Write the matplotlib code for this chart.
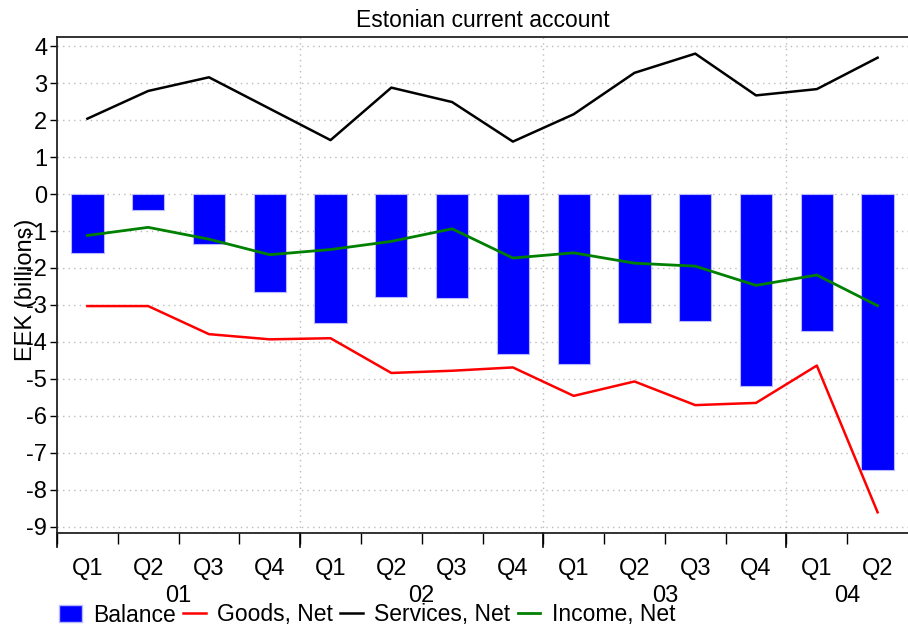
import matplotlib
matplotlib.use("Agg")
import matplotlib.pyplot as plt
import matplotlib.transforms as mtransforms
from matplotlib.patches import Patch
from matplotlib.lines import Line2D
import numpy as np

plt.rcParams['font.family'] = ['Liberation Sans', 'DejaVu Sans']
plt.rcParams['axes.unicode_minus'] = False

quarters = ["Q1", "Q2", "Q3", "Q4", "Q1", "Q2", "Q3", "Q4",
            "Q1", "Q2", "Q3", "Q4", "Q1", "Q2"]
years = ["01", "02", "03", "04"]
year_counts = [4, 4, 4, 2]

balance = [-1.60, -0.43, -1.36, -2.66, -3.49, -2.78, -2.81, -4.33,
           -4.59, -3.48, -3.44, -5.18, -3.70, -7.47]
goods = [-3.03, -3.03, -3.79, -3.93, -3.90, -4.84, -4.78, -4.69,
         -5.46, -5.07, -5.71, -5.65, -4.64, -8.61]
services = [2.04, 2.79, 3.16, 2.31, 1.46, 2.88, 2.49, 1.42,
            2.16, 3.28, 3.80, 2.67, 2.84, 3.69]
income = [-1.12, -0.90, -1.22, -1.64, -1.50, -1.28, -0.94, -1.73,
          -1.59, -1.87, -1.95, -2.47, -2.19, -3.02]

FS = 17
W, H = 908, 630
fig = plt.figure(figsize=(W / 100, H / 100), dpi=100)
ax = fig.add_axes([57 / W, 1 - 533 / H, 1 - 57 / W, (533 - 37) / H])

x = np.arange(len(quarters))
ax.bar(x, balance, width=0.53, color='#0000FF', edgecolor='#B8B8FF',
       linewidth=0.8, zorder=2)
ax.plot(x, goods, color='#FF0000', lw=1.8, zorder=3)
ax.plot(x, services, color='black', lw=1.8, zorder=3)
ax.plot(x, income, color='#008000', lw=2.0, zorder=3)

ax.set_xlim(-0.5, len(quarters) - 0.5)
ax.set_ylim(-9.17, 4.25)

# y axis
ax.set_yticks(range(-9, 5))
ax.tick_params(axis='y', which='major', labelsize=FS, length=5, width=1,
               direction='out', pad=2)
ax.yaxis.grid(True, linestyle=(0, (1, 3)), color='#BBBBBB', lw=1, zorder=0)

# x axis: boundaries as major ticks, quarter labels as minor
bounds = np.arange(len(quarters) + 1) - 0.5
year_bounds = np.concatenate([[0], np.cumsum(year_counts)]) - 0.5
ax.set_xticks(bounds[:-1])
ax.set_xticklabels([])
ax.tick_params(axis='x', which='major', length=8, width=1, direction='out')
ax.set_xticks(x, minor=True)
ax.set_xticklabels(quarters, minor=True)
ax.tick_params(axis='x', which='minor', length=0, labelsize=FS, pad=18)
for yb in year_bounds[:-1]:
    ax.plot([yb, yb], [0, -0.028], transform=mtransforms.blended_transform_factory(
        ax.transData, ax.transAxes), color='black', lw=1.2, clip_on=False)
for yb in year_bounds[1:-1]:
    ax.axvline(yb, linestyle=(0, (1, 3)), color='#BBBBBB', lw=1, zorder=0)

trans = mtransforms.blended_transform_factory(ax.transData, fig.transFigure)
for i, (yr, n) in enumerate(zip(years, year_counts)):
    cx = (year_bounds[i] + year_bounds[i + 1]) / 2
    ax.text(cx, 1 - 596 / H, yr, transform=trans, ha='center', va='center',
            fontsize=FS)

for s in ['top', 'bottom', 'left']:
    ax.spines[s].set_linewidth(1.3)
    ax.spines[s].set_color('#222222')
ax.spines['right'].set_visible(False)

ax.set_title("Estonian current account", fontsize=16.5, pad=7)
fig.text(26 / W, 1 - 290 / H, "EEK (billions)", rotation=90, ha='center',
         va='center', fontsize=FS)

handles = [Patch(facecolor='#0000FF', edgecolor='#B8B8FF'),
           Line2D([], [], color='#FF0000', lw=1.8),
           Line2D([], [], color='black', lw=1.8),
           Line2D([], [], color='#008000', lw=2.0)]
labels = ["Balance", "Goods, Net", "Services, Net", "Income, Net"]
fig.legend(handles, labels, loc='center left', ncol=4,
           bbox_to_anchor=(59 / W, 1 - 615 / H), frameon=False, fontsize=16.5,
           handlelength=1.0, handleheight=0.75, handletextpad=0.5,
           columnspacing=0.3, borderpad=0, borderaxespad=0)

fig.savefig("out.png", dpi=100)
